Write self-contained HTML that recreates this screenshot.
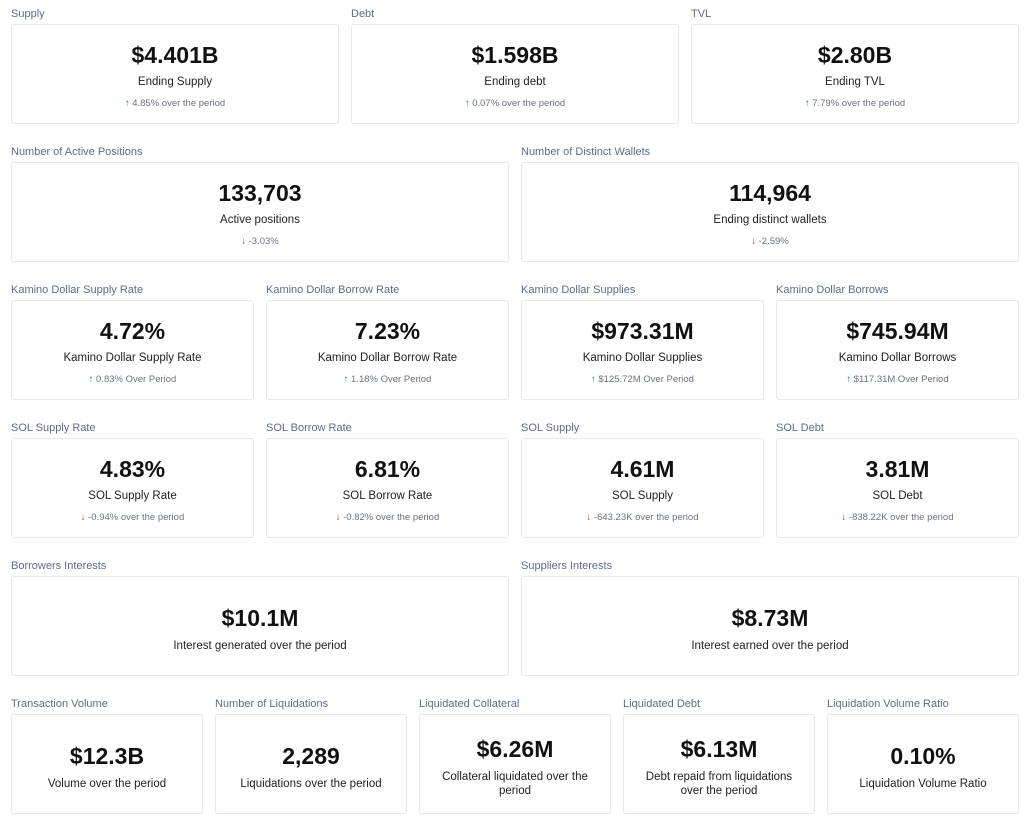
<!DOCTYPE html>
<html><head><meta charset="utf-8"><style>
body{margin:0;width:1024px;height:819px;background:#fff;font-family:"Liberation Sans",sans-serif;position:relative;overflow:hidden}
.t{position:absolute;font-size:11px;color:#5f6b85;white-space:nowrap}
.c{position:absolute;border:1px solid #e6e8ec;border-radius:3px;background:#fff;height:100px;box-sizing:border-box}
.c div{position:absolute;left:0;right:0;text-align:center;white-space:nowrap}
.v{font-size:23px;font-weight:bold;color:#111;line-height:26px}
.l{font-size:11.5px;color:#222;line-height:14px}
.d{font-size:9.5px;color:#6b7280;line-height:12px}
.up{color:#2e8b57;font-weight:bold}.dn{color:#c0392b;font-weight:bold}
</style></head><body>
<script>
function card(x,w,y,title,val,label,chg,dir,mode){
 let h=`<div class="t" style="left:${x}px;top:${y-16}px">${title}</div><div class="c" style="left:${x}px;top:${y}px;width:${w}px">`;
 if(mode==1){h+=`<div class="v" style="top:17px">${val}</div><div class="l" style="top:50px">${label}</div><div class="d" style="top:73px"><span class="${dir}">${dir=='up'?'↑':'↓'}</span> ${chg}</div>`;}
 else if(mode==2){h+=`<div class="v" style="top:28px">${val}</div><div class="l" style="top:62px">${label}</div>`;}
 else {h+=`<div class="v" style="top:21px">${val}</div><div class="l" style="top:55px;white-space:normal;padding:0 12px">${label}</div>`;}
 document.write(h+'</div>');
}
let r1=24;
card(11,328,r1,'Supply','$4.401B','Ending Supply','4.85% over the period','up',1);
card(351,328,r1,'Debt','$1.598B','Ending debt','0.07% over the period','up',1);
card(691,328,r1,'TVL','$2.80B','Ending TVL','7.79% over the period','up',1);
card(11,498,162,'Number of Active Positions','133,703','Active positions','-3.03%','dn',1);
card(521,498,162,'Number of Distinct Wallets','114,964','Ending distinct wallets','-2.59%','dn',1);
let x4=[11,266,521,776];
card(x4[0],243,300,'Kamino Dollar Supply Rate','4.72%','Kamino Dollar Supply Rate','0.83% Over Period','up',1);
card(x4[1],243,300,'Kamino Dollar Borrow Rate','7.23%','Kamino Dollar Borrow Rate','1.18% Over Period','up',1);
card(x4[2],243,300,'Kamino Dollar Supplies','$973.31M','Kamino Dollar Supplies','$125.72M Over Period','up',1);
card(x4[3],243,300,'Kamino Dollar Borrows','$745.94M','Kamino Dollar Borrows','$117.31M Over Period','up',1);
card(x4[0],243,438,'SOL Supply Rate','4.83%','SOL Supply Rate','-0.94% over the period','dn',1);
card(x4[1],243,438,'SOL Borrow Rate','6.81%','SOL Borrow Rate','-0.82% over the period','dn',1);
card(x4[2],243,438,'SOL Supply','4.61M','SOL Supply','-643.23K over the period','dn',1);
card(x4[3],243,438,'SOL Debt','3.81M','SOL Debt','-838.22K over the period','dn',1);
card(11,498,576,'Borrowers Interests','$10.1M','Interest generated over the period','','',2);
card(521,498,576,'Suppliers Interests','$8.73M','Interest earned over the period','','',2);
card(11,192,714,'Transaction Volume','$12.3B','Volume over the period','','',2);
card(215,192,714,'Number of Liquidations','2,289','Liquidations over the period','','',2);
card(419,192,714,'Liquidated Collateral','$6.26M','Collateral liquidated over the period','','',3);
card(623,192,714,'Liquidated Debt','$6.13M','Debt repaid from liquidations over the period','','',3);
card(827,192,714,'Liquidation Volume Ratio','0.10%','Liquidation Volume Ratio','','',2);
</script>
</body></html>
